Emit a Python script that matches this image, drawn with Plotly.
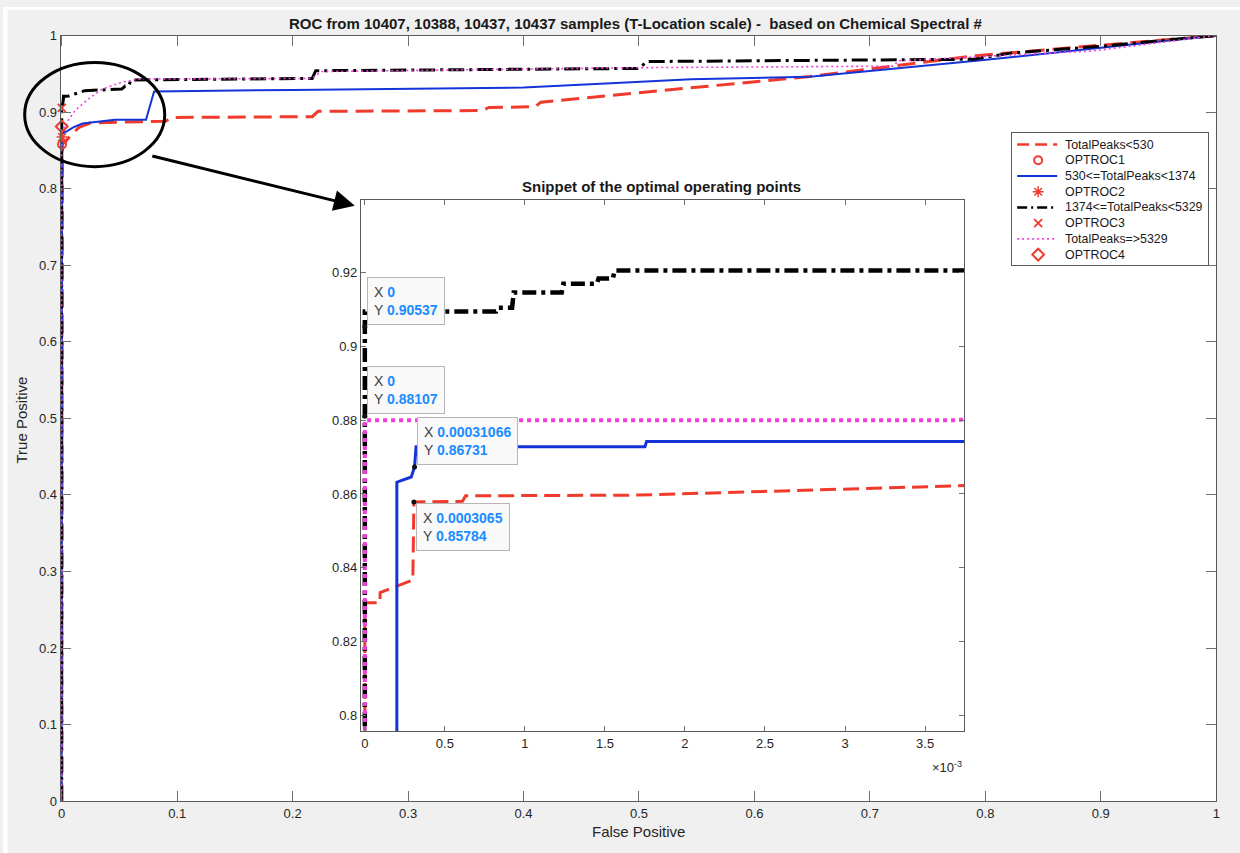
import plotly.graph_objects as go

W, H = 1248, 862

# ---- ROC curves: false positive rate / true positive rate per TotalPeaks group ----
fpr_low = [0, 0, 0.000094, 0.000096, 0.0003, 0.0003065, 0.00061, 0.00063, 0.0017, 0.0037,
           0.008, 0.015, 0.025, 0.09, 0.095, 0.217, 0.222, 0.364, 0.37, 0.41,
           0.415, 0.45, 0.4835, 0.648, 0.792, 0.9, 1.0]
tpr_low = [0, 0.8305, 0.8305, 0.8333, 0.8367, 0.85784, 0.8580, 0.8595, 0.8597, 0.8622,
           0.870, 0.880, 0.886, 0.888, 0.893, 0.894, 0.901, 0.902, 0.906, 0.907,
           0.913, 0.918, 0.9235, 0.9465, 0.9737, 0.987, 1.0]

fpr_mid = [0, 0, 0.0002, 0.0002, 0.00029, 0.00031066, 0.00032, 0.00175, 0.00176, 0.0037,
           0.006, 0.01, 0.018, 0.046, 0.073, 0.08, 0.2, 0.4, 0.48, 0.545,
           0.648, 0.792, 0.894, 1.0]
tpr_mid = [0, 0.70, 0.70, 0.8632, 0.8646, 0.86731, 0.8728, 0.8728, 0.8742, 0.8742,
           0.876, 0.880, 0.885, 0.890, 0.890, 0.927, 0.929, 0.932, 0.938, 0.943,
           0.946, 0.967, 0.983, 1.0]

fpr_high = [0, 0, 0, 0.00082, 0.00083, 0.00092, 0.00093, 0.00123, 0.00124, 0.00145,
            0.00146, 0.00155, 0.00156, 0.0037, 0.006, 0.02, 0.052, 0.055, 0.058, 0.06,
            0.217, 0.22, 0.5, 0.507, 0.79, 0.822, 0.9, 1.0]
tpr_high = [0, 0.90537, 0.9095, 0.9095, 0.9105, 0.9105, 0.9146, 0.9146, 0.917, 0.917,
            0.9184, 0.9184, 0.9206, 0.9206, 0.921, 0.928, 0.930, 0.934, 0.934, 0.942,
            0.944, 0.954, 0.957, 0.966, 0.969, 0.977, 0.986, 1.0]

fpr_top = [0, 0, 0.0037, 0.005, 0.012, 0.024, 0.035, 0.05, 0.065, 0.217,
           0.225, 0.5, 0.72, 0.725, 0.894, 1.0]
tpr_top = [0, 0.880, 0.880, 0.888, 0.903, 0.918, 0.930, 0.938, 0.943, 0.944,
           0.953, 0.958, 0.960, 0.967, 0.980, 1.0]

series_names = ["TotalPeaks<530", "530<=TotalPeaks<1374",
                "1374<=TotalPeaks<5329", "TotalPeaks=>5329"]

# optimal operating points
opt_names = ["OPTROC1", "OPTROC2", "OPTROC3", "OPTROC4"]
opt_fpr = [0.0003065, 0.00031066, 0, 0]
opt_tpr = [0.85784, 0.86731, 0.90537, 0.88107]

main_ticks = [0, 0.1, 0.2, 0.3, 0.4, 0.5, 0.6, 0.7, 0.8, 0.9, 1]
main_tick_text = ["0", "0.1", "0.2", "0.3", "0.4", "0.5", "0.6", "0.7", "0.8", "0.9", "1"]
inset_xticks = [0, 0.0005, 0.001, 0.0015, 0.002, 0.0025, 0.003, 0.0035]
inset_xtick_text = ["0", "0.5", "1", "1.5", "2", "2.5", "3", "3.5"]
inset_yticks = [0.8, 0.82, 0.84, 0.86, 0.88, 0.9, 0.92]
inset_ytick_text = ["0.8", "0.82", "0.84", "0.86", "0.88", "0.9", "0.92"]

FONT = "Liberation Sans, Arial, Helvetica, sans-serif"
RED, BLUE, MAG, BLK = "#f03a2c", "#1434d8", "#f040dc", "#000000"

# screen placement of the figure inside the page
SX, OX = 0.9939, 3.35
SY, OY = 0.9817, 7.51


def fx(p):
    """screen column -> paper x"""
    return (p - OX) / SX / W


def fy(p):
    """screen row -> paper y"""
    return 1 - (p - OY) / SY / H


curves = [(fpr_low, tpr_low), (fpr_mid, tpr_mid), (fpr_high, tpr_high), (fpr_top, tpr_top)]
main_style = [dict(color=RED, width=3, dash="18px,8px"),
              dict(color=BLUE, width=2),
              dict(color=BLK, width=3, dash="16px,5px,3px,5px"),
              dict(color=MAG, width=1.6, dash="2px,3px")]
inset_style = [dict(color=RED, width=3, dash="16px,7px"),
               dict(color=BLUE, width=3),
               dict(color=BLK, width=4.5, dash="14px,5px,4px,5px"),
               dict(color=MAG, width=4, dash="4px,4px")]
opt_symbols = [dict(symbol="circle-open", size=8, line=dict(color=RED, width=2)),
               dict(symbol="asterisk-open", size=9, line=dict(color=RED, width=1.5)),
               dict(symbol="x-thin-open", size=8, line=dict(color=RED, width=1.8)),
               dict(symbol="diamond-open", size=9, line=dict(color=RED, width=2))]

fig = go.Figure()

# main ROC axes
for (xs, ys), st in zip(curves, main_style):
    fig.add_trace(go.Scatter(x=xs, y=ys, mode="lines", line=st, xaxis="x", yaxis="y",
                             showlegend=False, hoverinfo="skip"))
for i, sym in enumerate(opt_symbols):
    fig.add_trace(go.Scatter(x=[opt_fpr[i]], y=[opt_tpr[i]], mode="markers",
                             marker=dict(color=RED, **sym), xaxis="x", yaxis="y",
                             showlegend=False, hoverinfo="skip", cliponaxis=False))

# inset axes
for (xs, ys), st in zip(curves, inset_style):
    fig.add_trace(go.Scatter(x=xs, y=ys, mode="lines", line=st, xaxis="x2", yaxis="y2",
                             showlegend=False, hoverinfo="skip"))
fig.add_trace(go.Scatter(x=opt_fpr, y=opt_tpr, mode="markers",
                         marker=dict(color="#111111", size=5), xaxis="x2", yaxis="y2",
                         showlegend=False, hoverinfo="skip", cliponaxis=False))

# legend box drawn in its own axes
legend_rows = [("line", dict(color=RED, width=2.5, dash="12px,6px")), ("marker", opt_symbols[0]),
               ("line", main_style[1]), ("marker", opt_symbols[1]),
               ("line", dict(color=BLK, width=2.5, dash="10px,4px,2px,4px")), ("marker", opt_symbols[2]),
               ("line", dict(color=MAG, width=1.6, dash="2px,3px")), ("marker", opt_symbols[3])]
legend_labels = [series_names[0], opt_names[0], series_names[1], opt_names[1],
                 series_names[2], opt_names[2], series_names[3], opt_names[3]]

annotations = []
for i, ((kind, st), label) in enumerate(zip(legend_rows, legend_labels)):
    yc = 12 + 15.7 * i
    if kind == "line":
        fig.add_trace(go.Scatter(x=[5, 45], y=[yc, yc], mode="lines", line=st,
                                 xaxis="x3", yaxis="y3", showlegend=False, hoverinfo="skip"))
    else:
        fig.add_trace(go.Scatter(x=[26], y=[yc], mode="markers", marker=dict(color=RED, **st),
                                 xaxis="x3", yaxis="y3", showlegend=False, hoverinfo="skip"))
    annotations.append(dict(x=51, y=yc, xref="x3", yref="y3", text=label, showarrow=False,
                            xanchor="left", yanchor="middle",
                            font=dict(family=FONT, size=12.4, color="#1a1a1a")))

axis_common = dict(showline=True, linecolor="#5a5a5a", linewidth=1, mirror="ticks",
                   ticks="inside", tickcolor="#707070", showgrid=False, zeroline=False)

fig.update_layout(
    width=W, height=H, margin=dict(l=0, r=0, t=0, b=0),
    paper_bgcolor="#f0f0f0", plot_bgcolor="#ffffff", showlegend=False,
    xaxis=dict(domain=[fx(61), fx(1216)], range=[-0.0009, 1], anchor="y",
               tickvals=main_ticks, ticktext=main_tick_text, ticklen=10,
               tickfont=dict(family=FONT, size=13, color="#262626"), **axis_common),
    yaxis=dict(domain=[fy(801), fy(36)], range=[0, 1], anchor="x",
               tickvals=main_ticks, ticktext=main_tick_text, ticklen=10,
               tickfont=dict(family=FONT, size=13, color="#262626"), **axis_common),
    xaxis2=dict(domain=[fx(361), fx(964)], range=[-0.000025, 0.003744], anchor="y2",
                tickvals=inset_xticks, ticktext=inset_xtick_text, ticklen=5,
                tickfont=dict(family=FONT, size=13, color="#262626"), **axis_common),
    yaxis2=dict(domain=[fy(731), fy(200)], range=[0.7957, 0.9398], anchor="x2",
                tickvals=inset_yticks, ticktext=inset_ytick_text, ticklen=5,
                tickfont=dict(family=FONT, size=13, color="#262626"), **axis_common),
    xaxis3=dict(domain=[fx(1012), fx(1208)], range=[0, 196], anchor="y3",
                showline=True, mirror=True, linecolor="#5a5a5a", linewidth=1,
                showticklabels=False, ticks="", showgrid=False, zeroline=False),
    yaxis3=dict(domain=[fy(265), fy(133)], range=[132, 0], anchor="x3",
                showline=True, mirror=True, linecolor="#5a5a5a", linewidth=1,
                showticklabels=False, ticks="", showgrid=False, zeroline=False),
)

# white border above and left of the figure window
fig.add_shape(type="rect", xref="paper", yref="paper", x0=0, x1=1, y0=fy(10), y1=1,
              fillcolor="#ffffff", line_width=0, layer="below")
fig.add_shape(type="rect", xref="paper", yref="paper", x0=0, x1=fx(8), y0=0, y1=1,
              fillcolor="#ffffff", line_width=0, layer="below")

# ellipse highlighting the zoomed region
fig.add_shape(type="circle", xref="paper", yref="paper", x0=fx(25), x1=fx(165),
              y0=fy(167), y1=fy(63), line=dict(color="#000000", width=3))

# titles and axis labels
annotations += [
    dict(x=fx(636), y=fy(24), xref="paper", yref="paper", showarrow=False,
         xanchor="center", yanchor="middle",
         text="<b>ROC from 10407, 10388, 10437, 10437 samples (T-Location scale) -  based on Chemical Spectral #</b>",
         font=dict(family=FONT, size=15, color="#1a1a1a")),
    dict(x=fx(662), y=fy(187), xref="paper", yref="paper", showarrow=False,
         xanchor="center", yanchor="middle",
         text="<b>Snippet of the optimal operating points</b>",
         font=dict(family=FONT, size=15, color="#1a1a1a")),
    dict(x=fx(639), y=fy(831), xref="paper", yref="paper", showarrow=False,
         xanchor="center", yanchor="middle",
         text="False Positive", font=dict(family=FONT, size=15, color="#262626")),
    dict(x=fx(22), y=fy(420), xref="paper", yref="paper", showarrow=False, textangle=-90,
         xanchor="center", yanchor="middle",
         text="True Positive", font=dict(family=FONT, size=15, color="#262626")),
    dict(x=fx(964), y=fy(767), xref="paper", yref="paper", showarrow=False,
         xanchor="right", yanchor="middle",
         text="×10<sup>-3</sup>", font=dict(family=FONT, size=13, color="#262626")),
    # arrow from the ellipse to the inset
    dict(x=fx(355), y=fy(206), xref="paper", yref="paper", ax=-204, ay=-50,
         showarrow=True, arrowhead=2, arrowsize=1.4, arrowwidth=3, arrowcolor="#000000", text=""),
]

# data tips on the optimal operating points
for k in [2, 3, 1, 0]:
    xv, yv = opt_fpr[k], opt_tpr[k]
    txt = (f"X <b><span style='color:#1a8cff'>{xv:.5g}</span></b><br>"
           f"Y <b><span style='color:#1a8cff'>{yv:.5g}</span></b>")
    below = (k == 0)
    annotations.append(dict(x=xv, y=yv, xref="x2", yref="y2", text=txt, showarrow=False,
                            xanchor="left", yanchor="top" if below else "bottom",
                            xshift=2, yshift=-1 if below else 2, align="left",
                            bgcolor="#f9f9f9", bordercolor="#b5b5b5", borderwidth=1, borderpad=6,
                            font=dict(family=FONT, size=14, color="#404040")))

fig.update_layout(annotations=annotations)
fig.write_html("out.html")
